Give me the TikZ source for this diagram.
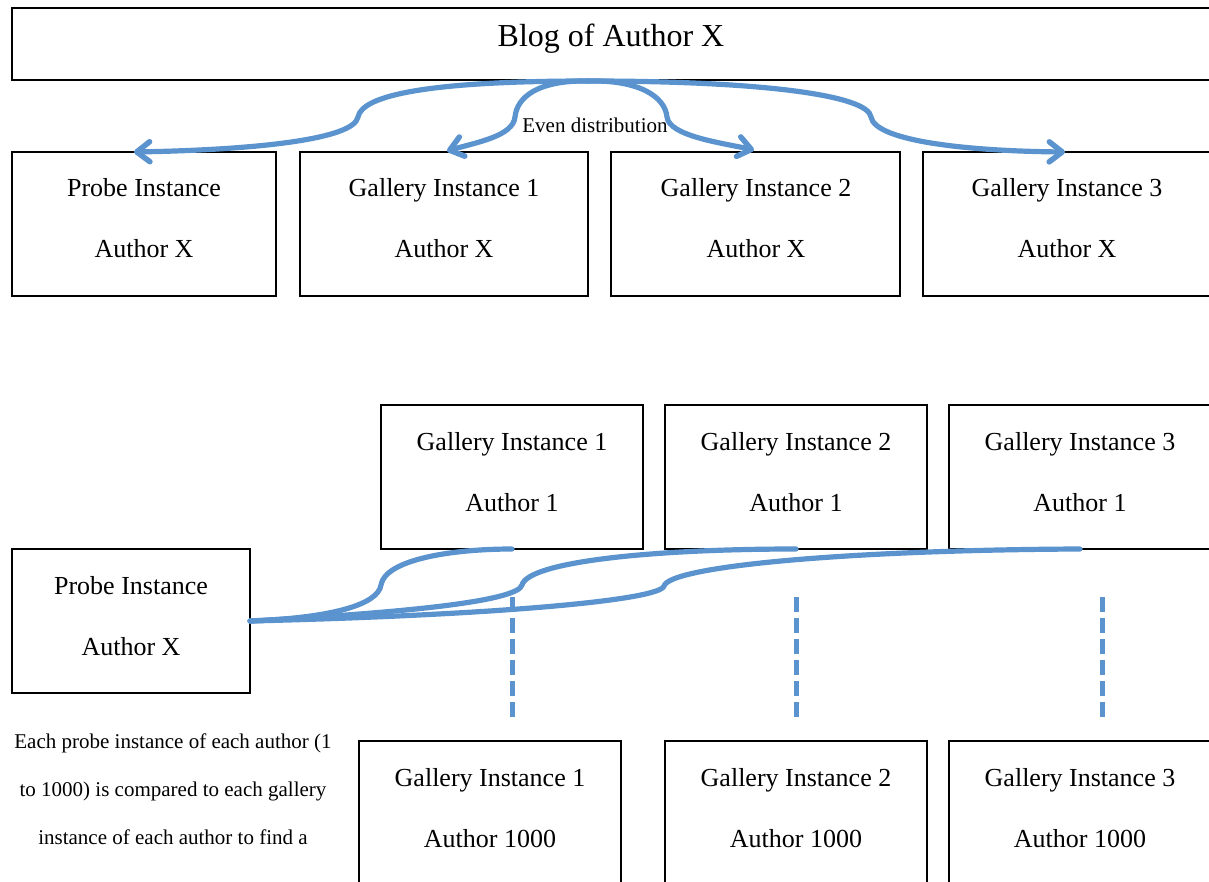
\documentclass[tikz,border=0pt]{standalone}
\usepackage{fontspec}
\setmainfont{Liberation Serif}
\usetikzlibrary{arrows.meta}
\definecolor{flow}{HTML}{5B93CE}
\begin{document}
\begin{tikzpicture}[x=1pt,y=-1pt,
  box/.style={draw=black, line width=1.5pt, inner sep=0pt, outer sep=0pt, minimum height=144pt},
  txt/.style={font=\fontsize{26}{30}\selectfont, anchor=base, inner sep=0pt},
  small/.style={font=\fontsize{21}{25}\selectfont, anchor=base, inner sep=0pt},
  flowline/.style={draw=flow, line width=5.2pt, line cap=round},
  flowarrow/.style={flowline, -{Straight Barb[length=13pt,width=20pt,line width=5.5pt,round]}},
  flowdash/.style={draw=flow, line width=5pt, dash pattern=on 15pt off 6pt}
]
\useasboundingbox (0,0) rectangle (1209,882);
% top box
\node[box, minimum width=1199pt, minimum height=72pt] (blog) at (611.5,44) {};
\node[font=\fontsize{32}{36}\selectfont, anchor=base, inner sep=0pt] (blogt) at (611,47) {Blog of Author X};
% row 1
\node[box, minimum width=264pt] (p1) at (144,224) {};
\node[txt] (p1a) at (144,197) {Probe Instance};
\node[txt] (p1b) at (144,258) {Author X};
\node[box, minimum width=288pt] (g1x) at (444,224) {};
\node[txt] (g1xa) at (444,197) {Gallery Instance 1};
\node[txt] (g1xb) at (444,258) {Author X};
\node[box, minimum width=289pt] (g2x) at (755.5,224) {};
\node[txt] (g2xa) at (756,197) {Gallery Instance 2};
\node[txt] (g2xb) at (756,258) {Author X};
\node[box, minimum width=288pt] (g3x) at (1067,224) {};
\node[txt] (g3xa) at (1067,197) {Gallery Instance 3};
\node[txt] (g3xb) at (1067,258) {Author X};
% row 2
\node[box, minimum width=262pt] (g11) at (512,477) {};
\node[txt] (g11a) at (512,450) {Gallery Instance 1};
\node[txt] (g11b) at (512,511) {Author 1};
\node[box, minimum width=262pt] (g21) at (796,477) {};
\node[txt] (g21a) at (796,450) {Gallery Instance 2};
\node[txt] (g21b) at (796,511) {Author 1};
\node[box, minimum width=262pt] (g31) at (1080,477) {};
\node[txt] (g31a) at (1080,450) {Gallery Instance 3};
\node[txt] (g31b) at (1080,511) {Author 1};
% probe 2
\node[box, minimum width=238pt] (p2) at (131,621) {};
\node[txt] (p2a) at (131,594) {Probe Instance};
\node[txt] (p2b) at (131,655) {Author X};
% bottom row
\node[box, minimum width=262pt] (g1k) at (490,813) {};
\node[txt] (g1ka) at (490,786) {Gallery Instance 1};
\node[txt] (g1kb) at (490,847) {Author 1000};
\node[box, minimum width=262pt] (g2k) at (796,813) {};
\node[txt] (g2ka) at (796,786) {Gallery Instance 2};
\node[txt] (g2kb) at (796,847) {Author 1000};
\node[box, minimum width=262pt] (g3k) at (1080,813) {};
\node[txt] (g3ka) at (1080,786) {Gallery Instance 3};
\node[txt] (g3kb) at (1080,847) {Author 1000};
% note
\node[small] (note1) at (173,748) {Each probe instance of each author (1};
\node[small] (note2) at (173,796) {to 1000) is compared to each gallery};
\node[small] (note3) at (173,844) {instance of each author to find a};
% distribution arrows
\coordinate (src) at (589,81);
\draw[flowarrow] (src) .. controls (430,81) and (362,95) .. (358,117)
  .. controls (354,140) and (250,150) .. ([xshift=-10pt]p1.north);
\draw[flowarrow] (src) .. controls (538,80) and (517,97) .. (515,117)
  .. controls (513,136) and (478,142) .. ([xshift=3pt,yshift=1pt]g1x.north);
\draw[flowarrow] (src) .. controls (640,80) and (665,97) .. (667,117)
  .. controls (669,136) and (722,143) .. ([xshift=-1.5pt,yshift=2pt]g2x.north);
\draw[flowarrow] (src) .. controls (760,81) and (868,95) .. (871,117)
  .. controls (875,140) and (960,151) .. ([xshift=-2pt]g3x.north);
\node[small] (even) at (595,133) {Even distribution};
% comparison curves
\draw[flowline] (p2.east) .. controls (330,618) and (378,605) .. (381,585)
  .. controls (385,560) and (450,549) .. (g11.south);
\draw[flowline] (p2.east) .. controls (420,612) and (518,600) .. (522,585)
  .. controls (528,562) and (650,549) .. (g21.south);
\draw[flowline] (p2.east) .. controls (500,615) and (660,600) .. (664,586)
  .. controls (670,566) and (850,550) .. (g31.south);
% dashed continuation lines
\coordinate (d1a) at (512,597); \coordinate (d1b) at (512,717);
\coordinate (d2a) at (796,597); \coordinate (d2b) at (796,717);
\coordinate (d3a) at (1102,597); \coordinate (d3b) at (1102,717);
\draw[flowdash] (d1a) -- (d1b);
\draw[flowdash] (d2a) -- (d2b);
\draw[flowdash] (d3a) -- (d3b);
\end{tikzpicture}
\end{document}
